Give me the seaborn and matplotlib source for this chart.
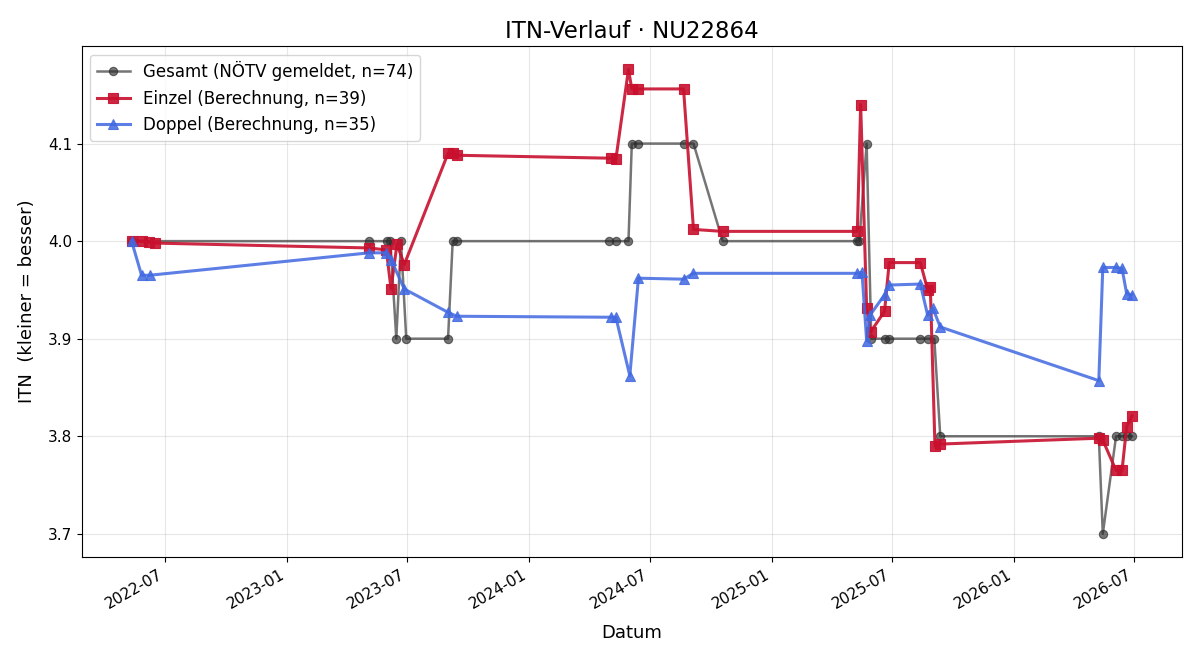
import matplotlib
matplotlib.use("Agg")
import matplotlib.pyplot as plt
import matplotlib.dates as mdates
import seaborn as sns
import pandas as pd

# Gesamt (NÖTV gemeldet)
ges_dates = ["2022-05-12", "2023-05-05", "2023-06-01", "2023-06-06", "2023-06-15",
             "2023-06-22", "2023-06-30", "2023-09-01", "2023-09-08", "2023-09-15",
             "2024-04-30", "2024-05-11", "2024-05-30", "2024-06-04", "2024-06-14",
             "2024-08-21", "2024-09-05", "2024-10-19", "2025-05-10", "2025-05-13",
             "2025-05-24", "2025-05-31", "2025-06-20", "2025-06-27", "2025-08-13",
             "2025-08-24", "2025-09-03", "2025-09-12", "2026-05-09", "2026-05-15",
             "2026-06-04", "2026-06-13", "2026-06-20", "2026-06-28"]
ges_vals = [4.0, 4.0, 4.0, 4.0, 3.9,
            4.0, 3.9, 3.9, 4.0, 4.0,
            4.0, 4.0, 4.0, 4.1, 4.1,
            4.1, 4.1, 4.0, 4.0, 4.0,
            4.1, 3.9, 3.9, 3.9, 3.9,
            3.9, 3.9, 3.8, 3.8, 3.7,
            3.8, 3.8, 3.8, 3.8]

# Einzel (Berechnung)
ein_dates = ["2022-05-12", "2022-05-27", "2022-06-07", "2022-06-16",
             "2023-05-05", "2023-05-31", "2023-06-07", "2023-06-16", "2023-06-27",
             "2023-09-01", "2023-09-09", "2023-09-15",
             "2024-05-03", "2024-05-11", "2024-05-30", "2024-06-04", "2024-06-14",
             "2024-08-21", "2024-09-05", "2024-10-19",
             "2025-05-10", "2025-05-15", "2025-05-24", "2025-05-30", "2025-06-20",
             "2025-06-27", "2025-08-13", "2025-08-24", "2025-08-28", "2025-09-04",
             "2025-09-12",
             "2026-05-09", "2026-05-15", "2026-06-04", "2026-06-13", "2026-06-20",
             "2026-06-28"]
ein_vals = [4.000, 4.000, 3.999, 3.998,
            3.993, 3.991, 3.951, 3.997, 3.976,
            4.090, 4.090, 4.088,
            4.085, 4.084, 4.176, 4.156, 4.156,
            4.156, 4.012, 4.010,
            4.010, 4.140, 3.931, 3.907, 3.928,
            3.978, 3.978, 3.950, 3.953, 3.790,
            3.792,
            3.798, 3.796, 3.765, 3.765, 3.810,
            3.821]

# Doppel (Berechnung)
dop_dates = ["2022-05-12", "2022-05-27", "2022-06-08",
             "2023-05-05", "2023-05-31", "2023-06-07", "2023-06-27",
             "2023-09-01", "2023-09-14",
             "2024-05-03", "2024-05-11", "2024-06-01", "2024-06-14", "2024-08-21",
             "2024-09-05",
             "2025-05-10", "2025-05-17", "2025-05-24", "2025-05-29", "2025-06-20",
             "2025-06-27", "2025-08-13", "2025-08-24", "2025-09-01", "2025-09-12",
             "2026-05-09", "2026-05-15", "2026-06-04", "2026-06-13", "2026-06-20",
             "2026-06-28"]
dop_vals = [4.000, 3.965, 3.965,
            3.988, 3.988, 3.981, 3.951,
            3.927, 3.923,
            3.922, 3.922, 3.862, 3.962, 3.961,
            3.967,
            3.967, 3.968, 3.898, 3.924, 3.945,
            3.955, 3.956, 3.924, 3.931, 3.912,
            3.857, 3.973, 3.973, 3.972, 3.946,
            3.945]

labels = ["Gesamt (NÖTV gemeldet, n=74)",
          "Einzel (Berechnung, n=39)",
          "Doppel (Berechnung, n=35)"]

plt.rcParams['font.family'] = ['DejaVu Sans']
fig, ax = plt.subplots(figsize=(12, 6.6), dpi=100)

series = [
    (ges_dates, ges_vals, labels[0], dict(color="#2b2b2b", alpha=0.65, marker="o",
                                          markersize=6, linewidth=1.8)),
    (ein_dates, ein_vals, labels[1], dict(color="#C8102E", alpha=0.9, marker="s",
                                          markersize=7, linewidth=2.2)),
    (dop_dates, dop_vals, labels[2], dict(color="#4169E1", alpha=0.85, marker="^",
                                          markersize=7, linewidth=2.2)),
]
for d, v, lab, kw in series:
    df = pd.DataFrame({"Datum": pd.to_datetime(d), "ITN": v})
    sns.lineplot(data=df, x="Datum", y="ITN", ax=ax, label=lab, sort=False,
                 estimator=None, markeredgewidth=0.8, markeredgecolor=kw["color"], **kw)

ax.set_title("ITN-Verlauf · NU22864", fontsize=16.5)
ax.set_xlabel("Datum", fontsize=13, labelpad=9)
ax.set_ylabel("ITN  (kleiner = besser)", fontsize=13, labelpad=8)
ax.tick_params(labelsize=11)
ax.grid(True, alpha=0.3)
ax.xaxis.set_major_locator(mdates.MonthLocator(bymonth=[1, 7]))
ax.xaxis.set_major_formatter(mdates.DateFormatter("%Y-%m"))
ax.legend(loc="upper left", fontsize=12)
fig.autofmt_xdate()
fig.subplots_adjust(left=0.068, right=0.985, top=0.930, bottom=0.156)
fig.savefig("out.png", dpi=100)
